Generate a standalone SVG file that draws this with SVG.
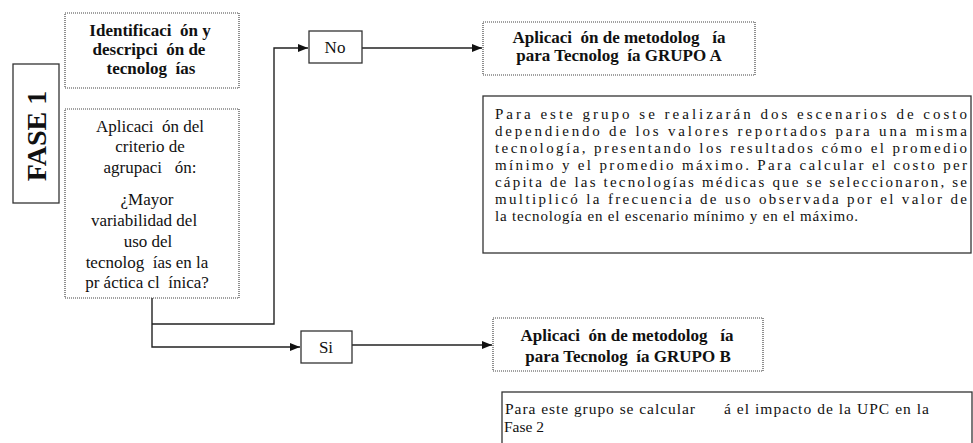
<svg xmlns="http://www.w3.org/2000/svg" width="973" height="443" viewBox="0 0 973 443">
<style>
text{font-family:"Liberation Serif","Times New Roman","DejaVu Serif",serif;fill:#111;white-space:pre}
.b{font-weight:bold;font-size:17px}
.r{font-size:17px}
.p{font-size:15px}
.q{font-size:15.5px}
.dot{fill:#fff;stroke:#444;stroke-width:1.2;stroke-dasharray:1 1}
.sol{fill:#fff;stroke:#333;stroke-width:1.3}
.c{fill:none;stroke:#222;stroke-width:1.4}
</style>
<defs>
<marker id="ah" markerWidth="10" markerHeight="8" refX="10" refY="4" orient="auto" markerUnits="userSpaceOnUse">
<path d="M0,0 L10,4 L0,8 Z" fill="#111"/>
</marker>
</defs>
<rect width="973" height="443" fill="#fff"/>
<g id="connectors">
<path class="c" d="M152,298 V347 H300" marker-end="url(#ah)"/>
<path class="c" d="M152,324 H274 V48 H308" marker-end="url(#ah)"/>
<path class="c" d="M362,48 H482" marker-end="url(#ah)"/>
<path class="c" d="M352,345 H492" marker-end="url(#ah)"/>
</g>
<g id="fase1">
<rect class="sol" x="13" y="64" width="46" height="139"/>
<text class="b" style="font-size:28px" text-anchor="middle" transform="translate(46,136) rotate(-90)">FASE 1</text>
</g>
<g id="identificacion">
<rect class="dot" x="65" y="13" width="174" height="75"/>
<text class="b" text-anchor="middle" x="150" y="36">Identificaci  ón y</text>
<text class="b" text-anchor="middle" x="149" y="55">descripci  ón de</text>
<text class="b" text-anchor="middle" x="151" y="74">tecnolog  ías</text>
</g>
<g id="criterio">
<rect class="dot" x="65" y="109" width="174" height="189"/>
<text class="r" text-anchor="middle" x="150" y="132">Aplicaci  ón del</text>
<text class="r" text-anchor="middle" x="150" y="152">criterio de</text>
<text class="r" text-anchor="middle" x="150" y="173">agrupaci   ón:</text>
<text class="r" text-anchor="middle" x="147" y="205">¿Mayor</text>
<text class="r" text-anchor="middle" x="144" y="226">variabilidad del</text>
<text class="r" text-anchor="middle" x="148" y="247">uso del</text>
<text class="r" text-anchor="middle" x="147" y="268">tecnolog  ías en la</text>
<text class="r" text-anchor="middle" x="147" y="288">pr áctica cl  ínica?</text>
</g>
<g id="no">
<rect class="sol" x="309" y="31" width="53" height="32"/>
<text class="r" text-anchor="middle" x="335" y="53">No</text>
</g>
<g id="si">
<rect class="sol" x="301" y="331" width="51" height="32"/>
<text class="r" text-anchor="middle" x="326" y="353">Si</text>
</g>
<g id="grupoA">
<rect class="dot" x="483" y="22" width="272" height="53"/>
<text class="b" text-anchor="middle" x="619" y="43">Aplicaci  ón de metodolog   ía</text>
<text class="b" text-anchor="middle" x="619" y="61">para Tecnolog  ía GRUPO A</text>
</g>
<g id="textoA">
<rect class="sol" x="483" y="96" width="488" height="157"/>
<text class="p" x="495" y="119" textLength="472" lengthAdjust="spacing">Para este grupo se realizarán dos escenarios de costo</text>
<text class="p" x="495" y="136" textLength="472" lengthAdjust="spacing">dependiendo de los valores reportados para una misma</text>
<text class="p" x="495" y="153" textLength="472" lengthAdjust="spacing">tecnología, presentando los resultados cómo el promedio</text>
<text class="p" x="495" y="170" textLength="472" lengthAdjust="spacing">mínimo y el promedio máximo. Para calcular el costo per</text>
<text class="p" x="495" y="187" textLength="472" lengthAdjust="spacing">cápita de las tecnologías médicas que se seleccionaron, se</text>
<text class="p" x="495" y="204" textLength="472" lengthAdjust="spacing">multiplicó la frecuencia de uso observada por el valor de</text>
<text class="p" x="495" y="221" textLength="363" lengthAdjust="spacing">la tecnología en el escenario mínimo y en el máximo.</text>
</g>
<g id="grupoB">
<rect class="dot" x="493" y="318" width="270" height="53"/>
<text class="b" text-anchor="middle" x="627" y="341">Aplicaci  ón de metodolog   ía</text>
<text class="b" text-anchor="middle" x="628" y="362">para Tecnolog  ía GRUPO B</text>
</g>
<g id="textoB">
<rect class="sol" x="502" y="392" width="470" height="60"/>
<text class="q" x="505" y="414" textLength="190" lengthAdjust="spacing">Para este grupo se calcular</text>
<text class="q" x="724" y="414" textLength="205" lengthAdjust="spacing">á el impacto de la UPC en la</text>
<text class="q" x="504" y="432">Fase 2</text>
</g>
</svg>
